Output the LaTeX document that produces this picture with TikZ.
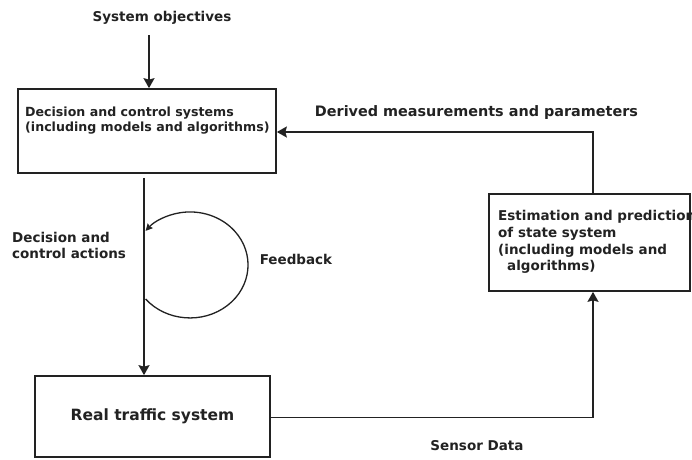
\documentclass[tikz,border=0pt]{standalone}
\usepackage{fontspec}
\setmainfont{DejaVu Sans}
\usetikzlibrary{arrows.meta}
\definecolor{ink}{HTML}{222222}
\begin{document}
\begin{tikzpicture}[x=1pt,y=-1pt,
  box/.style={draw=ink, line width=1.7pt, rectangle, inner sep=0pt},
  lbl/.style={text=ink, inner sep=0pt, font=\bfseries\fontsize{13.5}{16}\selectfont},
  conn/.style={draw=ink, line width=1.7pt, -{Stealth[length=10pt,width=11pt,inset=1.5pt]}},
  loopconn/.style={draw=ink, line width=1.3pt, -{Stealth[length=7pt,width=7pt,inset=1pt]}}
]
\useasboundingbox (0,0) rectangle (692,459);

% boxes
\node[box, minimum width=258pt, minimum height=84pt] (box1) at (147,131) {};
\node[lbl, anchor=west, align=left, font=\bfseries\fontsize{12.6}{15}\selectfont] (t1) at (25,120.5)
  {Decision and control systems\\(including models and algorithms)};
\node[box, minimum width=201pt, minimum height=97pt] (box2) at (589.5,242.5) {};
\node[lbl, anchor=west, align=left, font=\bfseries\fontsize{13.5}{16.7}\selectfont] (t2) at (498,242)
  {Estimation and prediction\\of state system\\(including models and\\\hspace*{9pt}algorithms)};
\node[box, minimum width=235pt, minimum height=81pt, text=ink,
  font=\bfseries\fontsize{15.5}{18}\selectfont] (box3) at (152.5,416.5) {Real traffic system};

% labels
\node[lbl] (obj) at (162,18) {System objectives};
\node[lbl, font=\bfseries\fontsize{14.4}{17}\selectfont] (derived) at (476.5,113) {Derived measurements and parameters};
\node[lbl, anchor=west, align=left] (actions) at (12,245) {Decision and\\control actions};
\node[lbl] (feedback) at (296,259) {Feedback};
\node[lbl] (sensor) at (477,446) {Sensor Data};

% connectors
\coordinate (objend) at (149,35);
\draw[conn] (objend) -- (objend |- box1.north);
\draw[conn] ([xshift=3.5pt]box2.north) |- ([yshift=-1pt]box1.east);
\draw[conn] ([xshift=-3pt,yshift=-4pt]box1.south) -- ([xshift=-3pt]box1.south |- box3.north);
\draw[conn] ([yshift=-1pt]box3.east) -| ([xshift=3.5pt]box2.south);

% feedback loop
\coordinate (fbstart) at (145.6,299);
\draw[loopconn] (fbstart) arc[start angle=140, end angle=-140, x radius=58, y radius=53];
\end{tikzpicture}
\end{document}
